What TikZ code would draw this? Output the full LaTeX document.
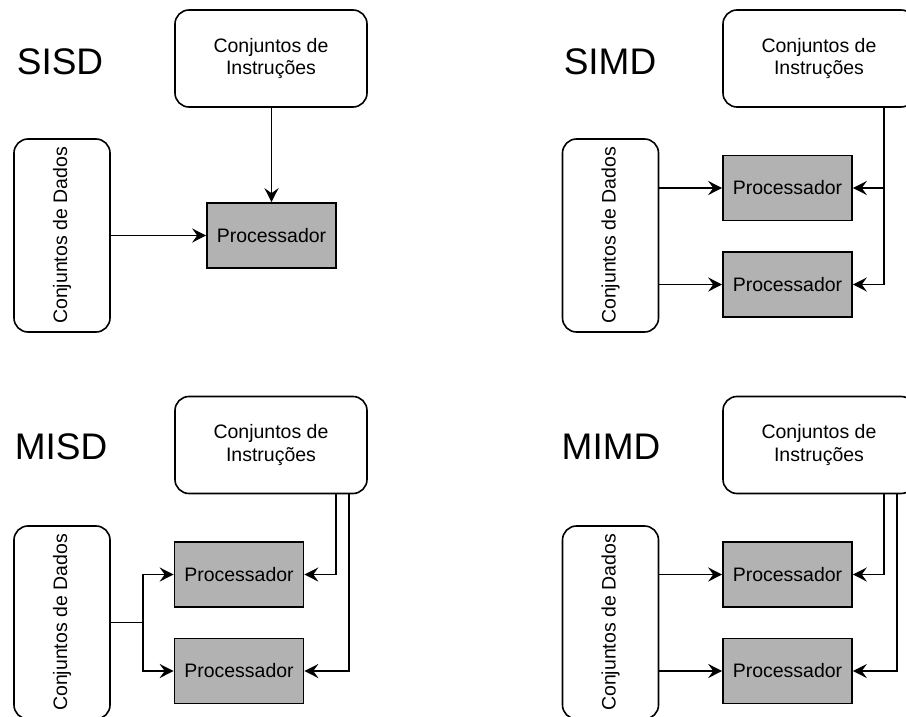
\documentclass[tikz,border=0pt]{standalone}
\usepackage{fontspec}
\setmainfont{Liberation Sans}
\usetikzlibrary{arrows.meta}

\tikzset{
  base/.style={draw=black, line width=1.6pt},
  instr/.style={base, rounded corners=14pt, minimum width=192pt, minimum height=97pt,
    inner sep=0pt, align=center, font=\fontsize{19.5}{22.5}\selectfont},
  dados/.style={base, rounded corners=14pt, minimum width=96pt, minimum height=193pt,
    inner sep=0pt,
    label={[rotate=90, font=\fontsize{19.5}{22.5}\selectfont]center:Conjuntos de Dados}},
  proc/.style={base, fill=black!30, minimum width=129pt, minimum height=65pt,
    inner sep=0pt, font=\fontsize{19.5}{22.5}\selectfont},
  titulo/.style={font=\fontsize{37}{40}\selectfont, inner sep=0pt},
  arr/.style={draw=black, line width=1.6pt, -{Stealth[length=14pt, width=14pt, inset=5pt]}},
  wire/.style={draw=black, line width=1.6pt},
}

\begin{document}
\begin{tikzpicture}[x=1pt, y=-1pt]
\useasboundingbox (0,0) rectangle (906,717);
\clip (0,0) rectangle (906,717);

% ---------- SISD ----------
\node[titulo] (sisdT) at (60,62) {SISD};
\node[instr] (sisdI) at (271,58.5) {Conjuntos de\\Instruções};
\node[dados] (sisdD) at (62,235.5) {};
\node[proc] (sisdP) at (271.5,235.5) {Processador};
\draw[arr] (sisdI.south -| sisdP.north) -- (sisdP.north);
\draw[arr] (sisdD.east) -- (sisdP.west);

% ---------- SIMD ----------
\node[titulo] (simdT) at (610,62) {SIMD};
\node[instr] (simdI) at (819,58.5) {Conjuntos de\\Instruções};
\node[dados] (simdD) at (610.5,235.5) {};
\node[proc] (simdP1) at (787.5,188) {Processador};
\node[proc] (simdP2) at (787.5,284.5) {Processador};
\coordinate (simdbus) at (884,0);
\draw[arr] (simdI.south -| simdbus) |- (simdP2.east);
\draw[arr] (simdbus |- simdP1.east) -- (simdP1.east);
\draw[arr] (simdD.east |- simdP1.west) -- (simdP1.west);
\draw[arr] (simdD.east |- simdP2.west) -- (simdP2.west);

% ---------- MISD ----------
\node[titulo] (misdT) at (61,447) {MISD};
\node[instr] (misdI) at (271,445) {Conjuntos de\\Instruções};
\node[dados] (misdD) at (62,622.5) {};
\node[proc] (misdP1) at (239,574.5) {Processador};
\node[proc] (misdP2) at (239,671) {Processador};
\coordinate (misdbusA) at (336,0);
\coordinate (misdbusB) at (349,0);
\coordinate (misdsplit) at (143,622.5);
\draw[arr] (misdI.south -| misdbusA) |- (misdP1.east);
\draw[arr] (misdI.south -| misdbusB) |- (misdP2.east);
\draw[wire] (misdD.east) -- (misdsplit);
\draw[arr] (misdsplit) |- (misdP1.west);
\draw[arr] (misdsplit) |- (misdP2.west);

% ---------- MIMD ----------
\node[titulo] (mimdT) at (611,447) {MIMD};
\node[instr] (mimdI) at (819,445) {Conjuntos de\\Instruções};
\node[dados] (mimdD) at (610.5,622.5) {};
\node[proc] (mimdP1) at (787.5,574.5) {Processador};
\node[proc] (mimdP2) at (787.5,671) {Processador};
\coordinate (mimdbusA) at (884,0);
\coordinate (mimdbusB) at (897,0);
\draw[arr] (mimdI.south -| mimdbusA) |- (mimdP1.east);
\draw[arr] (mimdI.south -| mimdbusB) |- (mimdP2.east);
\draw[arr] (mimdD.east |- mimdP1.west) -- (mimdP1.west);
\draw[arr] (mimdD.east |- mimdP2.west) -- (mimdP2.west);
\end{tikzpicture}
\end{document}
